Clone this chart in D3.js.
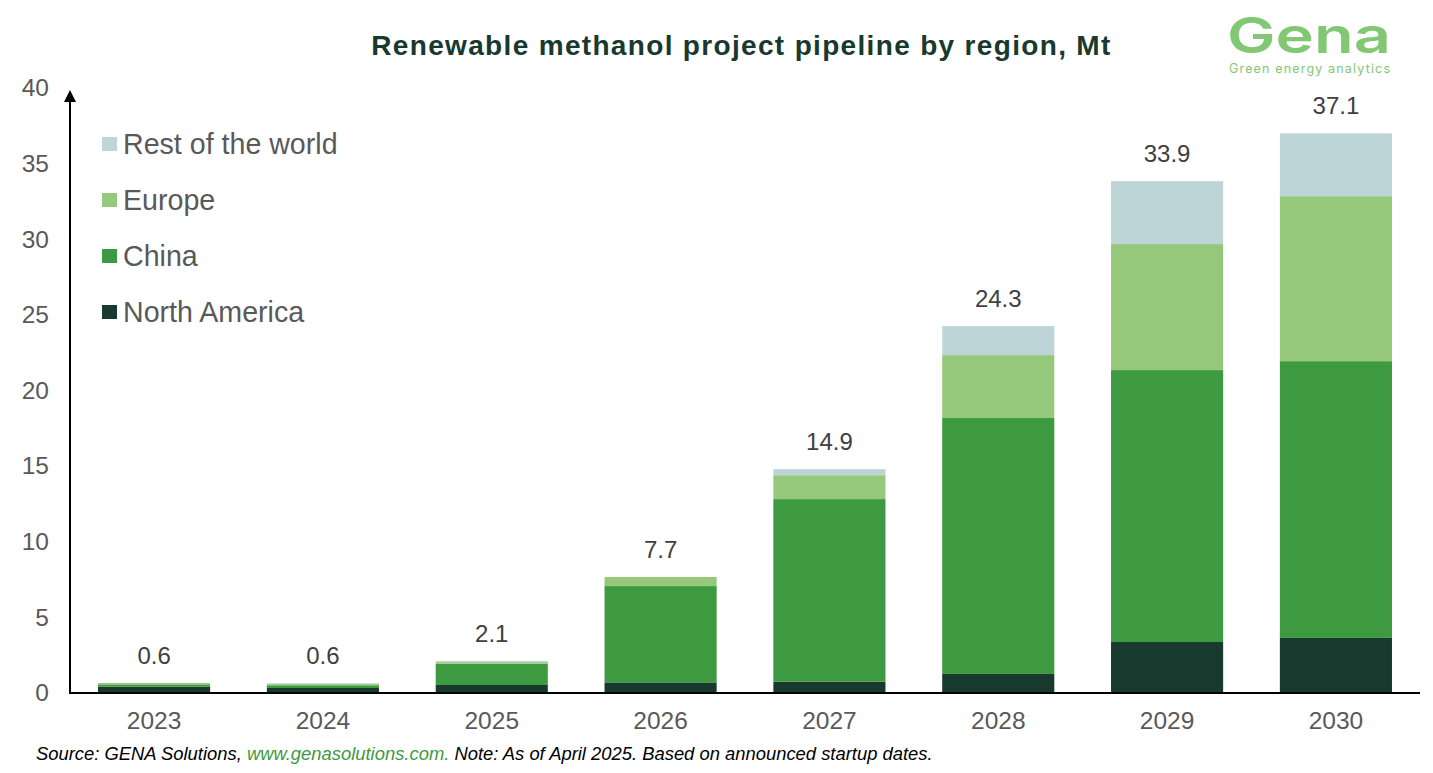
<!DOCTYPE html>
<html>
<head>
<meta charset="utf-8">
<script src="https://cdnjs.cloudflare.com/ajax/libs/d3/7.8.5/d3.min.js"></script>
<style>
	html, body { margin: 0; background: #fff; }
	svg { display: block; font-family: "Liberation Sans", Arial, sans-serif; }
</style>
</head>
<body>
<svg id="chart" width="1433" height="773"></svg>
<script>
const years = ["2023", "2024", "2025", "2026", "2027", "2028", "2029", "2030"];
const regions = ["North America", "China", "Europe", "Rest of the world"];
const northAmerica = [0.42, 0.33, 0.53, 0.7, 0.75, 1.26, 3.37, 3.64];
const china = [0.11, 0.18, 1.41, 6.37, 12.07, 16.92, 17.98, 18.3];
const europe = [0.13, 0.08, 0.1, 0.6, 1.58, 4.16, 8.33, 10.91];
const rest = [0, 0.05, 0.08, 0, 0.4, 1.92, 4.16, 4.15];
const totals = ["0.6", "0.6", "2.1", "7.7", "14.9", "24.3", "33.9", "37.1"];
const yTicks = [0, 5, 10, 15, 20, 25, 30, 35, 40];
const colors = ["#18392d", "#3d9a40", "#96c87c", "#bdd5d7"];

const svg = d3.select("#chart");

const x = d3
	.scaleBand()
	.domain(years)
	.range([70, 1420])
	.paddingInner(0.336)
	.paddingOuter(0.166);
const y = d3.scaleLinear().domain([0, 40]).range([693, 88]);

const rows = years.map((year, i) => ({
	year,
	"North America": northAmerica[i],
	China: china[i],
	Europe: europe[i],
	"Rest of the world": rest[i],
	total: totals[i],
}));

const stacked = d3.stack().keys(regions)(rows);

// Stacked bars
svg
	.selectAll("g.series")
	.data(stacked)
	.enter()
	.append("g")
	.attr("class", "series")
	.attr("fill", (d, i) => colors[i])
	.selectAll("rect")
	.data((d) => d)
	.enter()
	.append("rect")
	.attr("x", (d) => x(d.data.year))
	.attr("y", (d) => y(d[1]))
	.attr("width", x.bandwidth())
	.attr("height", (d) => y(d[0]) - y(d[1]));

// Total labels above the bars
const topOf = (d) => y(d3.sum(regions, (r) => d[r]));
svg
	.selectAll("text.total")
	.data(rows)
	.enter()
	.append("text")
	.attr("class", "total")
	.attr("x", (d) => x(d.year) + x.bandwidth() / 2)
	.attr("y", (d) => topOf(d) - 19)
	.attr("text-anchor", "middle")
	.attr("font-size", 24)
	.attr("fill", "#404040")
	.text((d) => d.total);

// Axes
const yAxis = svg
	.append("g")
	.attr("transform", "translate(49,0)")
	.call(d3.axisLeft(y).tickValues(yTicks).tickSize(0).tickPadding(0));
yAxis.select(".domain").remove();
yAxis
	.selectAll("text")
	.attr("font-family", "Liberation Sans")
	.attr("font-size", 24.5)
	.attr("fill", "#595959");

const xAxis = svg
	.append("g")
	.attr("transform", "translate(0,693)")
	.call(d3.axisBottom(x).tickSize(0).tickPadding(19));
xAxis.select(".domain").remove();
xAxis
	.selectAll("text")
	.attr("font-family", "Liberation Sans")
	.attr("font-size", 24.5)
	.attr("fill", "#595959");

svg
	.append("line")
	.attr("x1", 69)
	.attr("x2", 1420)
	.attr("y1", 693)
	.attr("y2", 693)
	.attr("stroke", "#000")
	.attr("stroke-width", 2);
svg
	.append("line")
	.attr("x1", 70)
	.attr("x2", 70)
	.attr("y1", 693)
	.attr("y2", 100)
	.attr("stroke", "#000")
	.attr("stroke-width", 2);
svg.append("path").attr("d", "M64,102L70,90L76,102Z").attr("fill", "#000");

// Legend, top entry first
const legend = svg
	.selectAll("g.legend")
	.data(regions.slice().reverse())
	.enter()
	.append("g")
	.attr("class", "legend")
	.attr("transform", (d, i) => `translate(102,${144 + i * 56})`);
legend
	.append("rect")
	.attr("y", -7)
	.attr("width", 15)
	.attr("height", 14)
	.attr("fill", (d) => colors[regions.indexOf(d)]);
legend
	.append("text")
	.attr("x", 21)
	.attr("y", 10)
	.attr("font-size", 28.6)
	.attr("fill", "#595959")
	.text((d) => d);

// Title
svg
	.append("text")
	.attr("x", 741.5)
	.attr("y", 55)
	.attr("text-anchor", "middle")
	.attr("font-size", 28)
	.attr("font-weight", "bold")
	.attr("letter-spacing", 1.33)
	.attr("fill", "#18392d")
	.text("Renewable methanol project pipeline by region, Mt");

// Logo
svg
	.append("text")
	.attr("x", 1227)
	.attr("y", 53)
	.attr("font-family", "Inter")
	.attr("font-size", 49.5)
	.attr("font-weight", 600)
	.attr("textLength", 164)
	.attr("lengthAdjust", "spacingAndGlyphs")
	.attr("fill", "#82c874")
	.text("Gena");
svg
	.append("text")
	.attr("x", 1229)
	.attr("y", 73)
	.attr("font-family", "Inter")
	.attr("font-size", 12.5)
	.attr("textLength", 161)
	.attr("lengthAdjust", "spacing")
	.attr("fill", "#82c874")
	.text("Green energy analytics");

// Source note
const note = svg
	.append("text")
	.attr("x", 36)
	.attr("y", 760)
	.attr("font-size", 18.4)
	.attr("font-style", "italic")
	.attr("fill", "#000");
note.append("tspan").text("Source: GENA Solutions, ");
note.append("tspan").attr("fill", "#3d9a40").text("www.genasolutions.com.");
note.append("tspan").text(" Note: As of April 2025. Based on announced startup dates.");
</script>
</body>
</html>
